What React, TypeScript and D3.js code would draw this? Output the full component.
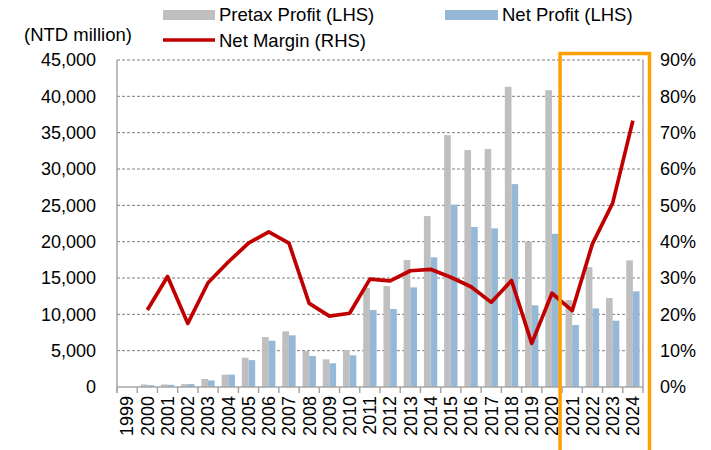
import React from "react";
import * as d3 from "d3";

const years = ["1999","2000","2001","2002","2003","2004","2005","2006","2007","2008","2009","2010","2011","2012","2013","2014","2015","2016","2017","2018","2019","2020","2021","2022","2023","2024"];
const pretaxProfit = [0,350,350,400,1100,1700,4030,6880,7660,4950,3810,5090,13620,13890,17470,23520,34660,32600,32740,41310,19990,40850,11970,16500,12240,17420];
const netProfit = [0,250,300,400,900,1700,3700,6370,7110,4260,3260,4360,10590,10730,13710,17840,25080,22010,21830,27920,11240,21090,8530,10820,9120,13160];
const netMargin: (number | null)[] = [null,21.2,30.4,17.5,28.7,34.4,39.6,42.7,39.6,23.0,19.5,20.3,29.7,29.2,32.0,32.4,30.2,27.6,23.3,29.3,12.0,25.8,21.0,39.4,50.6,73.3];
const leftTicks = [0,5000,10000,15000,20000,25000,30000,35000,40000,45000];
const rightTicks = [0,10,20,30,40,50,60,70,80,90];
const highlightYears = ["2021","2024"];

const W = 711, H = 450;
const L = 117, R = 643, T = 60, B = 387;
const FONT = "'Liberation Sans', Arial, sans-serif";

export default function App() {
  const x = d3.scaleBand<string>().domain(years).range([L, R]);
  const inner = d3.scaleBand<string>().domain(years).range([L, R]).paddingInner(0.34).paddingOuter(0.17);
  const sub = d3.scaleBand<string>().domain(["p","n"]).range([0, inner.bandwidth()]);
  const yL = d3.scaleLinear().domain([0, 45000]).range([B, T]);
  const yR = d3.scaleLinear().domain([0, 90]).range([B, T]);
  const fmt = d3.format(",");
  const line = d3.line<number | null>()
    .defined(d => d !== null)
    .x((_, i) => (x(years[i]) as number) + x.bandwidth() / 2)
    .y(d => yR(d as number));

  const boxL = (x(highlightYears[0]) as number) - 2;
  const boxR = (x(highlightYears[1]) as number) + x.bandwidth() + 6.5;

  return (
    <svg width={W} height={H} style={{ position: "absolute", left: 0, top: 0, background: "#fff" }} fontFamily={FONT}>
      {/* gridlines */}
      {leftTicks.filter(t => t > 0).map(t => (
        <line key={"g" + t} x1={L} x2={R} y1={yL(t)} y2={yL(t)} stroke="#7f7f7f" strokeWidth={1} strokeDasharray="3,2" />
      ))}
      {/* bars */}
      {years.map((yr, i) => (
        <g key={"b" + yr}>
          <rect x={(inner(yr) as number) + (sub("p") as number)} width={sub.bandwidth()} y={yL(pretaxProfit[i])} height={B - yL(pretaxProfit[i])} fill="#BFBFBF" />
          <rect x={(inner(yr) as number) + (sub("n") as number)} width={sub.bandwidth()} y={yL(netProfit[i])} height={B - yL(netProfit[i])} fill="#95B8D6" />
        </g>
      ))}
      {/* axes */}
      <line x1={L} x2={L} y1={T} y2={B + 6} stroke="#a6a6a6" strokeWidth={1.5} />
      <line x1={R} x2={R} y1={T} y2={B + 6} stroke="#a6a6a6" strokeWidth={1.5} />
      <line x1={L} x2={R} y1={B} y2={B} stroke="#a6a6a6" strokeWidth={1.5} />
      {years.map(yr => (
        <line key={"t" + yr} x1={x(yr) as number} x2={x(yr) as number} y1={B} y2={B + 6} stroke="#a6a6a6" strokeWidth={1.5} />
      ))}
      {/* line */}
      <path d={line(netMargin) || ""} fill="none" stroke="#C00000" strokeWidth={3.7} strokeLinejoin="round" />
      {/* left labels */}
      {leftTicks.map(t => (
        <text key={"l" + t} x={96} y={yL(t)} dy="0.35em" textAnchor="end" fontSize={18} fill="#000">{fmt(t)}</text>
      ))}
      {rightTicks.map(t => (
        <text key={"r" + t} x={660} y={yR(t)} dy="0.35em" textAnchor="start" fontSize={18} fill="#000">{t + "%"}</text>
      ))}
      {years.map(yr => (
        <text key={"x" + yr} transform={`translate(${(x(yr) as number) + x.bandwidth() / 2},396) rotate(-90)`} dy="0.35em" textAnchor="end" fontSize={18} fill="#000">{yr}</text>
      ))}
      {/* highlight box */}
      <polyline points={`${boxL},${H + 5} ${boxL},53.5 ${boxR},53.5 ${boxR},${H + 5}`} fill="none" stroke="#FFA000" strokeWidth={3.5} />
      {/* legend */}
      <text x={24} y={40.5} fontSize={18.5} fill="#000">(NTD million)</text>
      <rect x={163} y={10} width={52} height={10} fill="#BFBFBF" />
      <text x={219} y={21} fontSize={18.5} fill="#000">Pretax Profit (LHS)</text>
      <rect x={445} y={10} width={53} height={10} fill="#95B8D6" />
      <text x={502} y={21} fontSize={18.5} fill="#000">Net Profit (LHS)</text>
      <line x1={163} x2={215} y1={40} y2={40} stroke="#C00000" strokeWidth={3.5} />
      <text x={219} y={47} fontSize={18.5} fill="#000">Net Margin (RHS)</text>
    </svg>
  );
}
